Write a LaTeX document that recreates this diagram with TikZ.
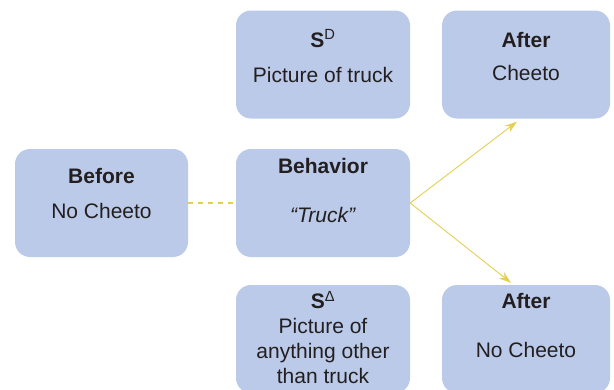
\documentclass[tikz,border=0pt]{standalone}
\usepackage{fontspec}
\setmainfont{Liberation Sans}
\usetikzlibrary{positioning}
\usetikzlibrary{arrows.meta}
\definecolor{BoxBlue}{HTML}{BBCAE9}
\definecolor{LinkYellow}{HTML}{E3D053}
\definecolor{InkGray}{HTML}{231F20}
\tikzset{
  block/.style={fill=BoxBlue, rounded corners=15pt, minimum width=174pt,
    minimum height=108pt, inner sep=0pt},
  blocktext/.style={text=InkGray, align=center, inner sep=0pt,
    font=\fontsize{21}{25}\selectfont},
  link/.style={draw=LinkYellow, line width=0.9pt},
}

\begin{document}
\begin{tikzpicture}[x=1pt,y=-1pt]
  \useasboundingbox (0,0) rectangle (614,389);
  \clip (0,0) rectangle (614,389);

  % the six boxes
  \node[block, minimum width=173pt] (before) at (101.5,203) {};
  \node[block] (sd) at (323,64.5) {};
  \node[block, minimum width=168pt] (aftertop) at (526,64.5) {};
  \node[block] (behavior) at (323,203) {};
  \node[block] (sdelta) at (323,339) {};
  \node[block, minimum width=168pt] (afterbot) at (526,339) {};

  % what each box says
  \node[blocktext, below=19pt of before.north] (beforetxt)
    {\textbf{Before}\\[10pt]No Cheeto};
  \node[blocktext, below=19pt of sd.north] (sdtxt)
    {\textbf{S}\textsuperscript{D}\\[10pt]Picture of truck};
  \node[blocktext, below=22pt of aftertop.north] (aftertoptxt)
    {\textbf{After}\\[8pt]Cheeto};
  \node[blocktext, below=9pt of behavior.north] (behaviortxt)
    {\textbf{Behavior}\\[24pt]\textit{“Truck”}};
  \node[blocktext, below=6pt of sdelta.north] (sdeltatxt)
    {\textbf{S}\textsuperscript{Δ}\\Picture of\\anything other\\than truck};
  \node[blocktext, below=8pt of afterbot.north] (afterbottxt)
    {\textbf{After}\\[24pt]No Cheeto};

  % links
  \coordinate (toptip) at ([xshift=-9pt,yshift=-3pt]aftertop.south);
  \coordinate (bottip) at ([xshift=-15pt,yshift=2pt]afterbot.north);

  \draw[link, line width=1.1pt, dash pattern=on 5pt off 5pt] (before) -- (behavior);
  \draw[link, -{Stealth[length=12pt,width=8pt]}] (behavior.east) -- (toptip);
  \draw[link, -{Stealth[length=12pt,width=8pt]}] (behavior.east) -- (bottip);
\end{tikzpicture}
\end{document}
